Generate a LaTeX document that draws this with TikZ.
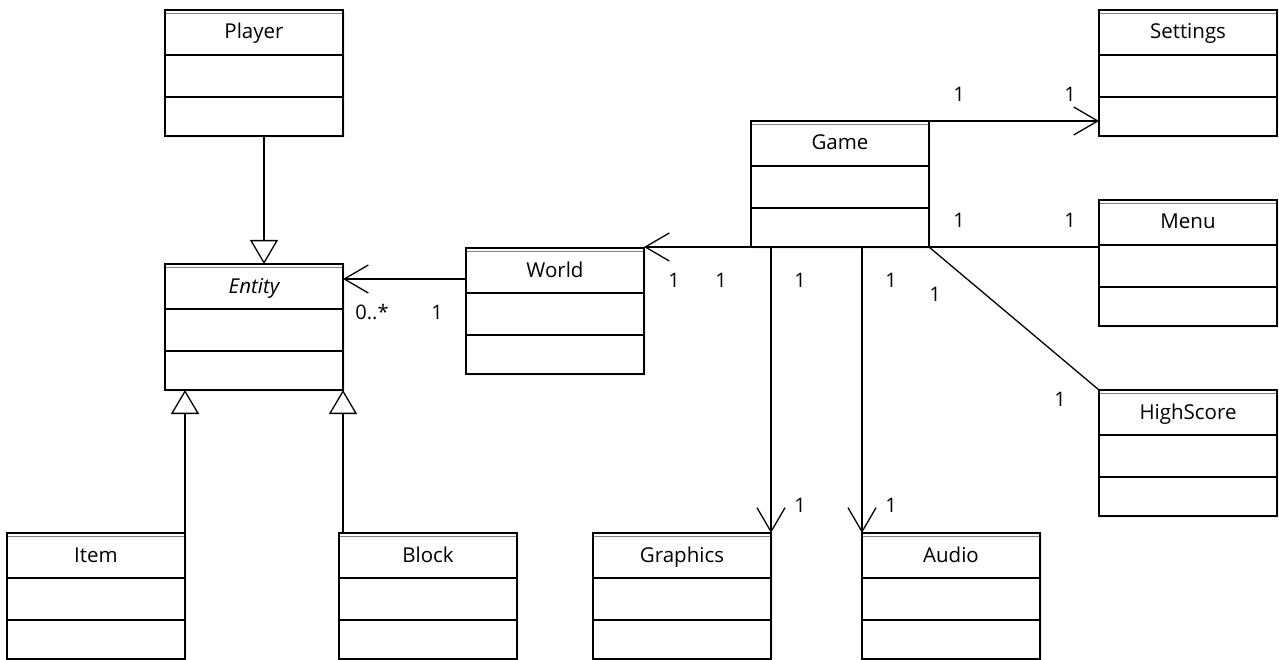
\documentclass[tikz,border=0pt]{standalone}
\usepackage{fontspec}
\setmainfont{Open Sans}
\usetikzlibrary{arrows.meta,shadows,calc}
\tikzset{
  clsbox/.style={draw, line width=1.6pt, fill=white, anchor=north west, inner sep=0pt, outer sep=0pt,
    minimum width=178pt, minimum height=126pt,
    drop shadow={shadow xshift=2pt, shadow yshift=-2pt, opacity=0.12}},
  clstitle/.style={inner sep=0pt, anchor=base, font=\fontsize{20.5}{24}\selectfont},
  divider/.style={line width=1.6pt},
  topline/.style={line width=0.6pt, gray},
  conn/.style={line width=1.3pt},
  openarrow/.style={conn, -{Straight Barb[length=24pt, width=28pt, line width=1.3pt]}},
  inherit/.style={conn, -{Triangle[open, length=24pt, width=28pt, line width=1.3pt, fill=white]}},
  mult/.style={inner sep=0pt, font=\fontsize{20}{24}\selectfont},
}
\newcommand\umlcls[5][]{%
  \node[clsbox] (#2) at (#3,#4) {};
  \node[clstitle] (#2-t) at ([yshift=-29pt]#2.north) {#1#5};
  \draw[topline] ([yshift=-3.5pt,xshift=1pt]#2.north west) -- ([yshift=-3.5pt,xshift=-1pt]#2.north east);
  \draw[divider] ([yshift=-45pt]#2.north west) -- ([yshift=-45pt]#2.north east);
  \draw[divider] ([yshift=-87pt]#2.north west) -- ([yshift=-87pt]#2.north east);
}
\begin{document}
\begin{tikzpicture}[x=1pt,y=-1pt]
\useasboundingbox[fill=white] (0,0) rectangle (1279,660);
\umlcls{Player}{165}{10}{Player}
\umlcls[\itshape]{Entity}{165}{264}{Entity}
\umlcls{Item}{7}{533}{Item}
\umlcls{Block}{339}{533}{Block}
\umlcls{Graphics}{593}{533}{Graphics}
\umlcls{Audio}{862}{533}{Audio}
\umlcls{World}{466}{248}{World}
\umlcls{Game}{751}{121}{Game}
\umlcls{Settings}{1099}{10}{Settings}
\umlcls{Menu}{1099}{200}{Menu}
\umlcls{HighScore}{1099}{390}{HighScore}

% inheritance
\draw[inherit] ([xshift=10pt]Player.south) -- ([xshift=10pt]Entity.north);
\draw[inherit] (Item.north east) -- (Item.north east |- Entity.south);
\draw[inherit] (Entity.south east |- Block.north) -- (Entity.south east);

% associations
\coordinate (wa) at ([yshift=-31pt]World.north west);
\draw[openarrow] (wa) -- (wa -| Entity.east);
\draw[openarrow] (Game.south west) -- (Game.south west -| World.north east);
\draw[openarrow] (Game.north east) -- (Game.north east -| Settings.west);
\draw[conn] (Game.south east) -- (Game.south east -| Menu.west);
\draw[conn] (Game.south east) -- (HighScore.north west);
\draw[openarrow] (Graphics.north east |- Game.south) -- (Graphics.north east);
\draw[openarrow] (Audio.north west |- Game.south) -- (Audio.north west);

% multiplicities
\node[mult] (m1) at (372,312) {0..*};
\node[mult] (m2) at (437,312) {1};
\node[mult] (m3) at (674,280) {1};
\node[mult] (m4) at (721,280) {1};
\node[mult] (m5) at (800,280) {1};
\node[mult] (m6) at (891,280) {1};
\node[mult] (m7) at (935,294) {1};
\node[mult] (m8) at (959,94) {1};
\node[mult] (m9) at (1070,94) {1};
\node[mult] (m10) at (959,220) {1};
\node[mult] (m11) at (1070,220) {1};
\node[mult] (m12) at (1060,399) {1};
\node[mult] (m13) at (800,505) {1};
\node[mult] (m14) at (891,505) {1};
\end{tikzpicture}
\end{document}
